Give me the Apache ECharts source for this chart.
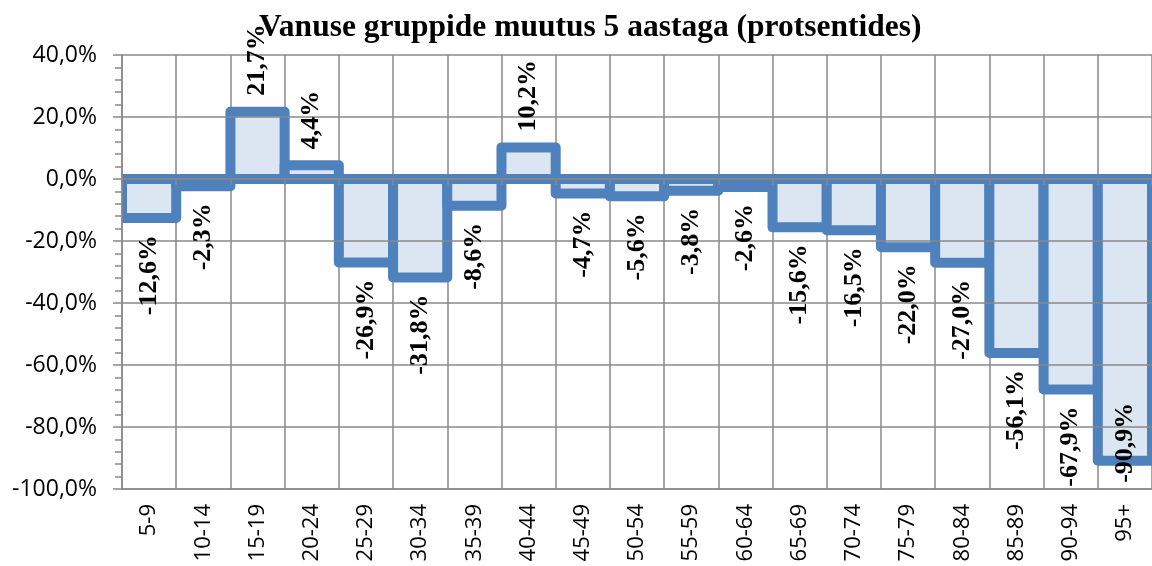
<!DOCTYPE html>
<html>
<head>
<meta charset="utf-8">
<script src="https://cdn.jsdelivr.net/npm/echarts@6/dist/echarts.min.js"></script>
<style>html,body{margin:0;padding:0;background:#fff;}#c{width:1152px;height:566px;}</style>
</head>
<body>
<div id="c"></div>
<script>
const titleText = 'Vanuse gruppide muutus 5 aastaga (protsentides)';
const categories = ['5-9','10-14','15-19','20-24','25-29','30-34','35-39','40-44','45-49','50-54','55-59','60-64','65-69','70-74','75-79','80-84','85-89','90-94','95+'];
const values = [-12.6,-2.3,21.7,4.4,-26.9,-31.8,-8.6,10.2,-4.7,-5.6,-3.8,-2.6,-15.6,-16.5,-22.0,-27.0,-56.1,-67.9,-90.9];
const yMin = -100, yMax = 40, yStep = 20;

const fmt = v => v.toFixed(1).replace('.', ',') + '%';
const grey = '#898989';
const barBorder = '#4F81BD';
const barFill = '#DCE6F2';

// label placement per bar (outside end; the lowest one kept inside the plot)
const labelData = values.map((v) => {
  let label;
  if (v >= 0) {
    label = { position: 'top', align: 'left', distance: 16 };
  } else if (v < -85) {
    label = { position: 'bottom', align: 'left', distance: 22 };
  } else {
    label = { position: 'bottom', align: 'right', distance: 17 };
  }
  return { value: v, label };
});

const shapeData = values.map((v, i) => [i, v]);

const chart = echarts.init(document.getElementById('c'), null, { renderer: 'canvas' });
chart.setOption({
  animation: false,
  backgroundColor: '#ffffff',
  title: {
    text: titleText,
    left: 254,
    top: 7,
    textStyle: { fontFamily: 'Liberation Serif', fontWeight: 'bold', fontSize: 31.5, color: '#000' }
  },
  grid: { left: 122, right: -4, top: 55, bottom: 77, containLabel: false },
  xAxis: [{
    type: 'category',
    data: categories,
    position: 'bottom',
    boundaryGap: true,
    axisLine: { show: true, onZero: false, lineStyle: { color: grey, width: 1.5 } },
    axisTick: { show: false },
    axisLabel: { rotate: 90, margin: 15, interval: 0, fontFamily: 'Open Sans', fontSize: 22, color: '#000' },
    splitLine: { show: true, interval: 0, lineStyle: { color: grey, width: 1.5 } }
  }, {
    type: 'category',
    data: categories,
    position: 'bottom',
    boundaryGap: true,
    z: 10,
    axisLine: { show: true, onZero: true, lineStyle: { color: grey, width: 1.5 } },
    axisTick: { show: true, interval: 0, length: 6, lineStyle: { color: grey, width: 1.5 } },
    axisLabel: { show: false },
    splitLine: { show: false }
  }],
  yAxis: {
    type: 'value',
    min: yMin,
    max: yMax,
    interval: yStep,
    z: 11,
    axisLine: { show: true, lineStyle: { color: grey, width: 1.5 } },
    axisTick: { show: true, length: 9, lineStyle: { color: grey, width: 1.5 } },
    minorTick: { show: true, splitNumber: 5, length: 7, lineStyle: { color: grey, width: 1.5 } },
    axisLabel: { formatter: fmt, margin: 25, fontFamily: 'Open Sans', fontSize: 23, color: '#000' },
    splitLine: { show: true, lineStyle: { color: grey, width: 1.5 } }
  },
  series: [{
    type: 'custom',
    xAxisIndex: 0,
    data: shapeData,
    clip: true,
    z: 5,
    renderItem: (params, api) => {
      const idx = api.value(0);
      const v = api.value(1);
      const p0 = api.coord([idx, 0]);
      const p1 = api.coord([idx, v]);
      const w = api.size([1, 0])[0];
      return {
        type: 'rect',
        shape: { x: p0[0] - w / 2, y: Math.min(p0[1], p1[1]), width: w, height: Math.abs(p1[1] - p0[1]) },
        style: { fill: barFill, stroke: barBorder, lineWidth: 10, lineJoin: 'round' }
      };
    }
  }, {
    type: 'bar',
    xAxisIndex: 0,
    data: labelData,
    barWidth: '100%',
    itemStyle: { color: 'rgba(0,0,0,0)', borderWidth: 0 },
    label: {
      show: true,
      rotate: 90,
      verticalAlign: 'middle',
      formatter: p => fmt(p.value),
      fontFamily: 'Liberation Serif',
      fontWeight: 'bold',
      fontSize: 26,
      color: '#000'
    },
    z: 12
  }]
});
</script>
</body>
</html>
